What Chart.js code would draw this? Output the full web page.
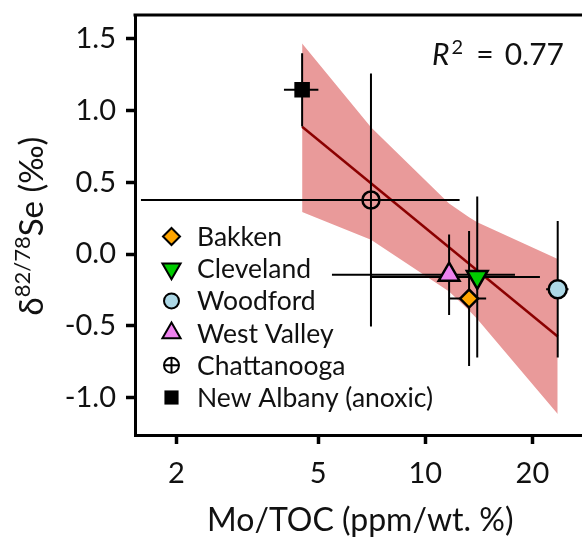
<!DOCTYPE html>
<html>
<head>
<meta charset="utf-8">
<script src="https://cdn.jsdelivr.net/npm/chart.js@4.4.1/dist/chart.umd.min.js"></script>
<style>
  html, body { margin: 0; padding: 0; background: #fff; overflow: hidden; }
  canvas { display: block; }
</style>
</head>
<body>
<canvas id="c" width="600" height="550"></canvas>
<script>
// ---- data -------------------------------------------------------------
const formations = ['Bakken', 'Cleveland', 'Woodford', 'West Valley', 'Chattanooga', 'New Albany (anoxic)'];
const moToc      = [13.28, 14.0, 23.56, 11.67, 7.04, 4.51];     // Mo/TOC (ppm/wt. %)
const moTocErr   = [1.55, 7.0, 1.7, 6.2, 5.45, 0.5];
const deltaSe    = [-0.31, -0.16, -0.245, -0.144, 0.376, 1.143]; // δ82/78Se (‰)
const deltaSeErr = [0.47, 0.56, 0.475, 0.28, 0.88, 0.255];

// regression line and its confidence band
const fitX = [4.51, 23.56];
const fitY = [0.886, -0.574];
const bandX     = [4.51, 7.04, 11.67, 13.28, 14.0, 23.56];
const bandUpper = [1.466, 0.882, 0.351, 0.256, 0.222, -0.035];
const bandLower = [0.292, 0.100, -0.261, -0.394, -0.452, -1.113];

const xTicks = [2, 5, 10, 20];
const yTicks = [-1.0, -0.5, 0.0, 0.5, 1.0, 1.5];
const r2Text = '0.77';

// ---- styling ----------------------------------------------------------
const FONT = 'Lato, "Open Sans", sans-serif';
const markerStyles = {
  'Bakken':              { style: 'rectRot',  fill: '#FFA500', r: 9,  lr: 8.5, rot: 0 },
  'Cleveland':           { style: 'triangle', fill: '#00CC00', r: 12, lr: 10.5, rot: 180 },
  'Woodford':            { style: 'circle',   fill: '#ADD8E6', r: 9,  lr: 7.5, rot: 0 },
  'West Valley':         { style: 'triangle', fill: '#EE82EE', r: 12, lr: 10.5, rot: 0 },
  'Chattanooga':         { style: 'circle',   fill: 'rgba(0,0,0,0)', r: 8.5, lr: 7.5, rot: 0, plus: true },
  'New Albany (anoxic)': { style: 'rect',     fill: '#000000', r: 11, lr: 10, rot: 0 }
};
const bandColor = '#E99A9A';
const fitColor = '#8B0000';

// ---- datasets ---------------------------------------------------------
const datasets = [];

formations.forEach((name, i) => {
  const m = markerStyles[name];
  datasets.push({
    label: name,
    data: [{ x: moToc[i], y: deltaSe[i] }],
    showLine: false,
    pointStyle: m.style,
    pointRadius: m.r,
    pointRotation: m.rot,
    pointBackgroundColor: m.fill,
    pointBorderColor: '#000',
    pointBorderWidth: m.style === 'rect' ? 0 : 2.5,
    order: 0
  });
});

formations.forEach((name, i) => {
  datasets.push({
    data: [{ x: moToc[i] - moTocErr[i], y: deltaSe[i] }, { x: moToc[i] + moTocErr[i], y: deltaSe[i] }],
    borderColor: '#000', borderWidth: 2, pointRadius: 0, fill: false, order: 1
  });
  datasets.push({
    data: [{ x: moToc[i], y: deltaSe[i] - deltaSeErr[i] }, { x: moToc[i], y: deltaSe[i] + deltaSeErr[i] }],
    borderColor: '#000', borderWidth: 2, pointRadius: 0, fill: false, order: 1
  });
});

datasets.push({
  data: fitX.map((x, i) => ({ x, y: fitY[i] })),
  borderColor: fitColor, borderWidth: 2.5, pointRadius: 0, fill: false, order: 2
});

datasets.push({
  data: bandX.map((x, i) => ({ x, y: bandUpper[i] })),
  borderWidth: 0, borderColor: 'rgba(0,0,0,0)', pointRadius: 0,
  backgroundColor: bandColor, fill: '+1', order: 3
});
datasets.push({
  data: bandX.map((x, i) => ({ x, y: bandLower[i] })),
  borderWidth: 0, borderColor: 'rgba(0,0,0,0)', pointRadius: 0, fill: false, order: 4
});

// ---- plugins: frame, axis titles, R² note, legend ----------------------
const decorations = {
  id: 'decorations',
  afterDraw(chart) {
    const ctx = chart.ctx;
    const a = chart.chartArea;
    ctx.save();

    // top and right edges of the frame
    ctx.strokeStyle = '#000';
    ctx.lineWidth = 3;
    ctx.beginPath();
    ctx.moveTo(a.left - 1.5, a.top);
    ctx.lineTo(a.right, a.top);
    ctx.lineTo(a.right, a.bottom);
    ctx.stroke();

    ctx.fillStyle = '#111';
    ctx.textBaseline = 'alphabetic';

    // x-axis title
    ctx.font = `32px ${FONT}`;
    ctx.textAlign = 'center';
    ctx.fillText('Mo/TOC (ppm/wt. %)', (a.left + a.right) / 2, 531);

    // y-axis title with superscript
    ctx.save();
    ctx.translate(43, 226);
    ctx.rotate(-Math.PI / 2);
    ctx.textAlign = 'left';
    const fMain = `33px ${FONT}`, fSup = `22px ${FONT}`;
    ctx.font = fMain; const w1 = ctx.measureText('δ').width;
    ctx.font = fSup;  const w2 = ctx.measureText('82/78').width;
    ctx.font = fMain; const w3 = ctx.measureText('Se (‰)').width;
    const x0 = -(w1 + w2 + w3) / 2;
    ctx.font = fMain; ctx.fillText('δ', x0, 0);
    ctx.font = fSup;  ctx.fillText('82/78', x0 + w1, -13);
    ctx.font = fMain; ctx.fillText('Se (‰)', x0 + w1 + w2, 0);
    ctx.restore();

    // R² annotation
    ctx.textAlign = 'left';
    ctx.font = `italic 30px ${FONT}`;
    ctx.fillText('R', 432, 65);
    const rw = ctx.measureText('R').width;
    ctx.font = `20px ${FONT}`;
    ctx.fillText('2', 432 + rw + 2, 54);
    ctx.font = `30px ${FONT}`;
    ctx.textAlign = 'center';
    ctx.fillText('=', 485, 65);
    ctx.textAlign = 'right';
    ctx.fillText(r2Text, 564, 65);

    // legend
    const lx = 171.5, tx = 197, y0 = 236.5, dy = 32.2;
    formations.forEach((name, i) => {
      const m = markerStyles[name];
      const y = y0 + i * dy;
      ctx.fillStyle = m.fill;
      ctx.strokeStyle = '#000';
      ctx.lineWidth = 2;
      Chart.helpers.drawPoint(ctx, {
        pointStyle: m.style, radius: m.lr, rotation: m.rot,
        borderWidth: m.style === 'rect' ? 0 : 2
      }, lx, y);
      if (m.plus) {
        ctx.fillStyle = 'rgba(0,0,0,0)';
        Chart.helpers.drawPoint(ctx, { pointStyle: 'cross', radius: m.lr, rotation: 0, borderWidth: 2 }, lx, y);
      }
      ctx.fillStyle = '#111';
      ctx.font = `26.5px ${FONT}`;
      ctx.textAlign = 'left';
      ctx.textBaseline = 'middle';
      ctx.fillText(name, tx, y + 1);
    });
    ctx.restore();
  }
};

// axes keep a fixed footprint so the plot frame lands where intended
function fixBox(size, key) {
  return s => {
    s[key] = size;
    s.paddingTop = 0; s.paddingBottom = 0; s.paddingLeft = 0; s.paddingRight = 0;
  };
}

// ---- chart ------------------------------------------------------------
new Chart(document.getElementById('c'), {
  type: 'line',
  data: { datasets },
  options: {
    responsive: false,
    animation: false,
    devicePixelRatio: 1,
    layout: { padding: { left: 0, top: 15, right: 11, bottom: 0 } },
    plugins: { legend: { display: false }, tooltip: { enabled: false } },
    scales: {
      x: {
        type: 'logarithmic',
        min: 1.53, max: 28.2,
        afterBuildTicks: s => { s.ticks = xTicks.map(v => ({ value: v })); },
        afterFit: fixBox(115, 'height'),
        ticks: {
          callback: v => String(v), autoSkip: false, maxRotation: 0,
          font: { family: FONT, size: 29 }, color: '#111', padding: 12
        },
        grid: { drawOnChartArea: false, drawTicks: true, tickLength: 9, tickWidth: 3.5, tickColor: '#000' },
        border: { display: true, color: '#000', width: 3 }
      },
      y: {
        type: 'linear',
        min: -1.26, max: 1.664,
        afterBuildTicks: s => { s.ticks = yTicks.map(v => ({ value: v })); },
        afterFit: fixBox(135, 'width'),
        ticks: {
          callback: v => Number(v).toFixed(1),
          font: { family: FONT, size: 29 }, color: '#111', padding: 10
        },
        grid: { drawOnChartArea: false, drawTicks: true, tickLength: 9, tickWidth: 3.5, tickColor: '#000' },
        border: { display: true, color: '#000', width: 3 }
      }
    }
  },
  plugins: [decorations]
});
</script>
</body>
</html>
